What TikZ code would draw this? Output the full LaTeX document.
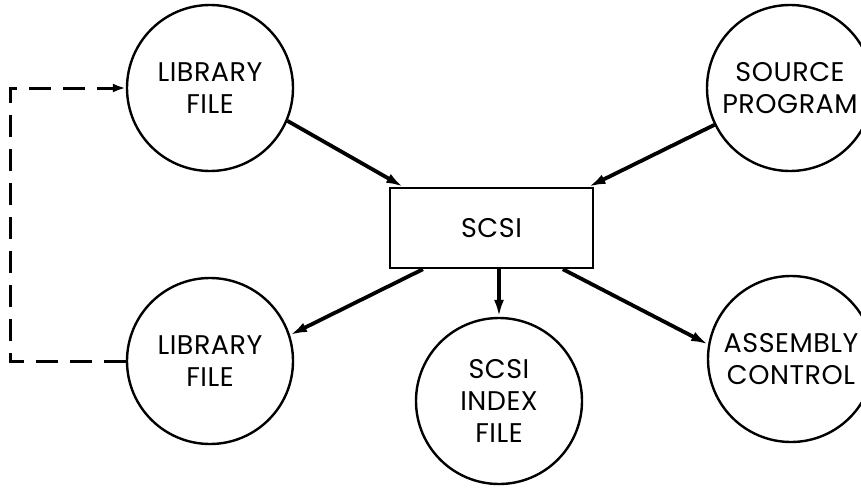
\documentclass[tikz,border=0pt]{standalone}
\usepackage{fontspec}
\setmainfont[LetterSpace=2]{Poppins}
\usetikzlibrary{arrows.meta}

\begin{document}
\begin{tikzpicture}[x=1pt, y=-1pt, >={Latex[length=17pt,width=10pt]}, font=\fontsize{27}{32}\selectfont,
	datei/.style={draw, circle, line width=2.4pt, minimum size=166pt, inner sep=0pt, align=center},
	prog/.style={draw, rectangle, line width=2.4pt, minimum width=203pt, minimum height=80pt},
	fluss/.style={->, line width=3.8pt},
	rueck/.style={-{Latex[length=13pt,width=9pt]}, line width=3pt, dash pattern=on 22pt off 12pt}]
	% Bildbereich
	\useasboundingbox (0,0) rectangle (861,487);
	% Knoten zeichnen
	\node[prog] (scsi) at (491.5,228) {SCSI};
	\node[datei] (lib1) at (210,88) {LIBRARY\\FILE};
	\node[datei] (source) at (790,88) {SOURCE\\PROGRAM};
	\node[datei] (lib2) at (210,361) {LIBRARY\\FILE};
	\node[datei] (index) at (499,401) {SCSI\\INDEX\\FILE};
	\node[datei] (assembly) at (791,359) {ASSEMBLY\\CONTROL};
	% Pfeile zeichnen
	\draw[fluss] (lib1.-23) -- (scsi.155);
	\draw[fluss] (source.206) -- (scsi.23);
	\draw[fluss] (scsi.211) -- (lib2.18);
	\draw[fluss] (scsi.south -| index.north) -- (index.north);
	\draw[fluss] (scsi.-30) -- (assembly.170);
	% Rueckfuehrung
	\coordinate (links) at (10,0);
	\draw[rueck] (lib2.west) -- (lib2.west -| links) |- (lib1.west);
\end{tikzpicture}
\end{document}
